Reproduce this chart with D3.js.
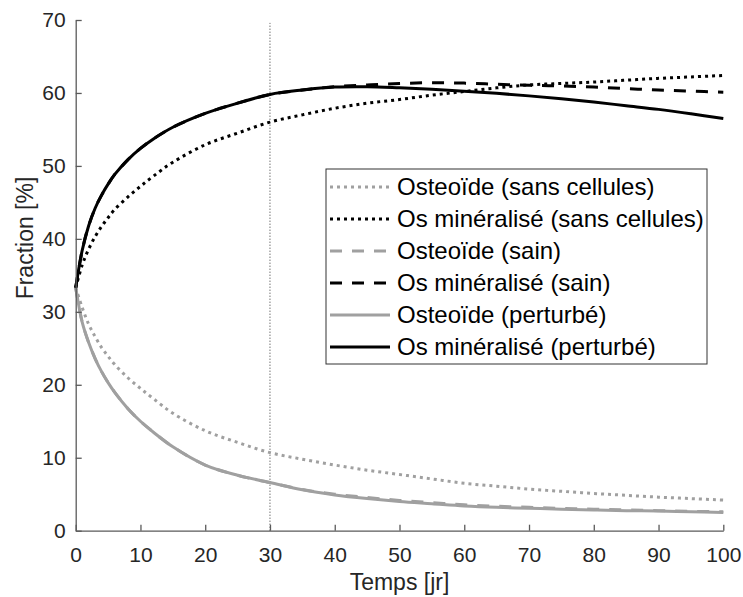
<!DOCTYPE html>
<html>
<head>
<meta charset="utf-8">
<script src="https://cdn.jsdelivr.net/npm/d3@7.9.0/dist/d3.min.js"></script>
<style>
  body { margin: 0; background: #fff; }
  svg { display: block; font-family: "Liberation Sans", Arial, sans-serif; }
</style>
</head>
<body>
<div id="chart"></div>
<script>
/* =========================
   DATA
========================= */
const days = [0, 1, 2, 3, 4, 5, 6, 8, 10, 12, 15, 20, 25, 30, 35, 40, 45, 50, 55, 60, 65, 70, 75, 80, 85, 90, 95, 100];

const osteoidNoCells = [33.3, 30.6, 28.3, 26.6, 25.1, 23.9, 22.8, 21.0, 19.5, 18.1, 16.1, 13.7, 12.1, 10.7, 9.8, 9.0, 8.3, 7.7, 7.1, 6.5, 6.1, 5.7, 5.4, 5.1, 4.85, 4.6, 4.4, 4.2];
const mineralNoCells = [33.3, 36.4, 38.6, 40.3, 41.7, 42.9, 44.0, 45.7, 47.2, 48.6, 50.5, 52.9, 54.5, 56.0, 57.0, 57.9, 58.6, 59.1, 59.7, 60.2, 60.7, 61.1, 61.3, 61.5, 61.75, 62.0, 62.2, 62.4];
const osteoidHealthy = [33.3, 28.6, 25.8, 23.6, 21.8, 20.3, 19.0, 16.8, 15.0, 13.5, 11.5, 9.0, 7.6, 6.6, 5.65, 5.0, 4.55, 4.15, 3.85, 3.55, 3.35, 3.2, 3.05, 2.95, 2.85, 2.75, 2.65, 2.6];
const mineralHealthy = [33.3, 38.4, 41.8, 44.2, 46.0, 47.5, 48.8, 50.8, 52.4, 53.7, 55.3, 57.2, 58.6, 59.8, 60.4, 60.85, 61.1, 61.3, 61.4, 61.35, 61.2, 61.05, 60.95, 60.8, 60.6, 60.4, 60.25, 60.1];
const osteoidPerturbed = [33.3, 28.6, 25.8, 23.6, 21.8, 20.3, 19.0, 16.8, 15.0, 13.5, 11.5, 9.0, 7.6, 6.6, 5.6, 4.9, 4.4, 4.0, 3.7, 3.4, 3.2, 3.07, 2.95, 2.84, 2.75, 2.7, 2.6, 2.5];
const mineralPerturbed = [33.3, 38.4, 41.8, 44.2, 46.0, 47.5, 48.8, 50.8, 52.4, 53.7, 55.3, 57.2, 58.6, 59.8, 60.4, 60.8, 60.85, 60.7, 60.5, 60.25, 59.95, 59.6, 59.2, 58.75, 58.25, 57.75, 57.15, 56.5];

const seriesLabels = [
  'Osteoïde (sans cellules)',
  'Os minéralisé (sans cellules)',
  'Osteoïde (sain)',
  'Os minéralisé (sain)',
  'Osteoïde (perturbé)',
  'Os minéralisé (perturbé)'
];
const xTicks = [0, 10, 20, 30, 40, 50, 60, 70, 80, 90, 100];
const yTicks = [0, 10, 20, 30, 40, 50, 60, 70];
const markerDay = 30;

/* =========================
   STYLES
========================= */
const GRAY = '#a0a0a0';
const BLACK = '#000';
const DOT = '3,4';
const DASH = '12,10';

const series = [
  { label: seriesLabels[0], values: osteoidNoCells, color: GRAY, dash: DOT, width: 3 },
  { label: seriesLabels[1], values: mineralNoCells, color: BLACK, dash: DOT, width: 3 },
  { label: seriesLabels[2], values: osteoidHealthy, color: GRAY, dash: DASH, width: 3 },
  { label: seriesLabels[3], values: mineralHealthy, color: BLACK, dash: DASH, width: 3 },
  { label: seriesLabels[4], values: osteoidPerturbed, color: GRAY, dash: null, width: 3 },
  { label: seriesLabels[5], values: mineralPerturbed, color: BLACK, dash: null, width: 3 }
];

/* =========================
   LAYOUT
========================= */
const width = 743;
const height = 597;
const plot = { left: 75.7, right: 723.3, top: 20, bottom: 530.7 };

const svg = d3.select('#chart')
  .append('svg')
  .attr('width', width)
  .attr('height', height);

const x = d3.scaleLinear().domain([0, 100]).range([plot.left, plot.right]);
const y = d3.scaleLinear().domain([0, 70]).range([plot.bottom, plot.top]);

/* =========================
   VERTICAL MARKER
========================= */
svg.append('line')
  .attr('x1', x(markerDay)).attr('x2', x(markerDay))
  .attr('y1', y(0)).attr('y2', y(69.6))
  .attr('stroke', '#333')
  .attr('stroke-width', 1)
  .attr('stroke-dasharray', '1,2');

/* =========================
   CURVES
========================= */
const line = d3.line()
  .x((d, i) => x(days[i]))
  .y(d => y(d))
  .curve(d3.curveCatmullRom.alpha(0.5));

svg.append('g')
  .selectAll('path')
  .data(series)
  .join('path')
  .attr('d', d => line(d.values))
  .attr('fill', 'none')
  .attr('stroke', d => d.color)
  .attr('stroke-width', d => d.width)
  .attr('stroke-dasharray', d => d.dash);

/* =========================
   AXES
========================= */
const xAxis = svg.append('g')
  .attr('transform', `translate(0,${plot.bottom})`)
  .call(d3.axisBottom(x).tickValues(xTicks).tickSize(-6).tickSizeOuter(0).tickPadding(16));

const yAxis = svg.append('g')
  .attr('transform', `translate(${plot.left},0)`)
  .call(d3.axisLeft(y).tickValues(yTicks).tickSize(-6).tickSizeOuter(0).tickPadding(10));

[xAxis, yAxis].forEach(g => {
  g.select('.domain').attr('stroke', '#5a5a5a').attr('stroke-width', 1.3);
  g.selectAll('.tick line').attr('stroke', '#5a5a5a').attr('stroke-width', 1.3);
  g.selectAll('.tick text')
    .attr('fill', '#262626')
    .style('font-size', '21px')
    .style('font-family', '"Liberation Sans", Arial, sans-serif');
});

svg.append('text')
  .attr('x', (plot.left + plot.right) / 2)
  .attr('y', 590)
  .attr('text-anchor', 'middle')
  .attr('fill', '#262626')
  .style('font-size', '23px')
  .text('Temps [jr]');

svg.append('text')
  .attr('transform', 'translate(33,238) rotate(-90)')
  .attr('text-anchor', 'middle')
  .attr('fill', '#262626')
  .style('font-size', '23px')
  .text('Fraction [%]');

/* =========================
   LEGEND
========================= */
const legend = svg.append('g').attr('transform', 'translate(326,169)');

legend.append('rect')
  .attr('width', 381)
  .attr('height', 195)
  .attr('fill', '#fff')
  .attr('stroke', '#333')
  .attr('stroke-width', 1);

const rows = legend.selectAll('g.row')
  .data(series)
  .join('g')
  .attr('class', 'row')
  .attr('transform', (d, i) => `translate(0,${18 + i * 32})`);

rows.append('line')
  .attr('x1', 4).attr('x2', 64)
  .attr('stroke', d => d.color)
  .attr('stroke-width', d => d.width)
  .attr('stroke-dasharray', d => d.dash);

rows.append('text')
  .attr('x', 71)
  .attr('dy', '0.35em')
  .attr('fill', '#000')
  .style('font-size', '24px')
  .text(d => d.label);
</script>
</body>
</html>
